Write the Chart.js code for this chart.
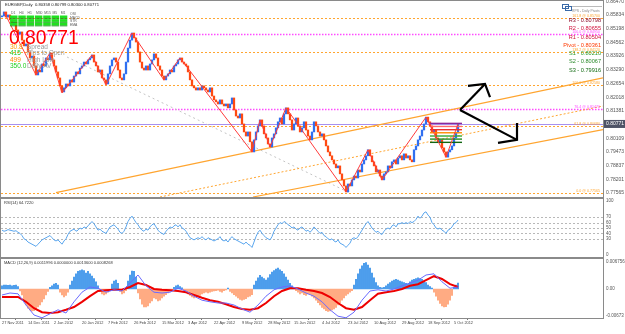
<!DOCTYPE html>
<html><head><meta charset="utf-8">
<script src="https://cdn.jsdelivr.net/npm/chart.js@4.4.1/dist/chart.umd.min.js"></script>
<style>
html,body{margin:0;padding:0;background:#fff;}
#wrap{position:relative;width:625px;height:334px;overflow:hidden;background:#fff;}
canvas{position:absolute;left:0;}
</style></head><body>
<div id="wrap">
<canvas id="cMain" width="625" height="198" style="top:0px"></canvas>
<canvas id="cRsi" width="625" height="60" style="top:198px"></canvas>
<canvas id="cMacd" width="625" height="75" style="top:258px"></canvas>
</div>
<script>
// ================= DATA =================
const symbolTitle = 'EURGBP,Daily  0.80358 0.80799 0.80300 0.80771';
const firstOpen = 0.8575;
const closes = [
0.8579,0.8598,0.8574,0.8584,0.8561,0.8542,0.8551,0.8514,0.8495,0.8505,
0.8467,0.8440,0.8449,0.8412,0.8384,0.8393,0.8347,0.8305,0.8328,0.8319,
0.8356,0.8347,0.8384,0.8375,0.8407,0.8375,0.8347,0.8319,0.8291,0.8254,
0.8226,0.8245,0.8263,0.8254,0.8282,0.8272,0.8300,0.8319,0.8310,0.8337,
0.8347,0.8365,0.8356,0.8375,0.8384,0.8398,0.8365,0.8347,0.8319,0.8328,
0.8291,0.8282,0.8263,0.8310,0.8347,0.8375,0.8384,0.8365,0.8328,0.8291,
0.8282,0.8310,0.8365,0.8430,0.8467,0.8500,0.8477,0.8458,0.8412,0.8365,
0.8337,0.8328,0.8347,0.8328,0.8356,0.8375,0.8403,0.8384,0.8347,0.8328,
0.8300,0.8282,0.8300,0.8310,0.8328,0.8319,0.8347,0.8356,0.8375,0.8384,
0.8365,0.8356,0.8347,0.8319,0.8282,0.8254,0.8245,0.8235,0.8245,0.8235,
0.8254,0.8245,0.8235,0.8226,0.8245,0.8207,0.8189,0.8180,0.8170,0.8189,
0.8170,0.8161,0.8170,0.8152,0.8170,0.8198,0.8142,0.8114,0.8105,0.8124,
0.8077,0.8040,0.8021,0.8040,0.7994,0.7947,0.8003,0.8040,0.8068,0.8096,
0.8068,0.8031,0.8012,0.7984,0.7970,0.8012,0.8031,0.8059,0.8087,0.8105,
0.8077,0.8124,0.8152,0.8124,0.8096,0.8049,0.8077,0.8105,0.8068,0.8040,
0.8059,0.8087,0.8049,0.8021,0.8003,0.8040,0.8087,0.8068,0.8040,0.8021,
0.8031,0.8003,0.7975,0.7947,0.7929,0.7910,0.7891,0.7873,0.7882,0.7845,
0.7817,0.7789,0.7761,0.7798,0.7789,0.7817,0.7835,0.7826,0.7863,0.7854,
0.7891,0.7910,0.7929,0.7957,0.7929,0.7901,0.7882,0.7854,0.7863,0.7835,
0.7817,0.7845,0.7854,0.7882,0.7873,0.7901,0.7910,0.7891,0.7919,0.7929,
0.7910,0.7938,0.7919,0.7929,0.7910,0.7901,0.7957,0.7975,0.8003,0.8021,
0.8049,0.8077,0.8109,0.8087,0.8068,0.8040,0.8049,0.8012,0.7994,0.8003,
0.7966,0.7947,0.7923,0.7947,0.7957,0.7975,0.8012,0.8036,0.80771
];
const zigzagIdx   = [1,17,24,30,45,52,65,81,89,125,129,134,142,172,183,190,212,222,228];
const zigzagPrice = [0.8598,0.8305,0.8407,0.8221,0.8398,0.8258,0.8500,0.8281,0.8384,0.7947,0.8096,0.7970,0.8152,0.7761,0.7957,0.7817,0.8109,0.7923,0.8077];
const priceTicks = [0.86470,0.85834,0.85198,0.84562,0.83926,0.83290,0.82654,0.82018,0.81381,0.80745,0.80109,0.79473,0.78837,0.78201,0.77565];
const currentPrice = 0.80771;
const levelPrices = [0.8570,0.8495,0.8412,0.8258,0.8147,0.8068,0.7756];
const levelLabels = ['161.8 @ 0.85700','100.0 @ 0.84950','138.2 @ 0.84120','100.0 @ 0.82580','76.4 @ 0.81470','61.8 @ 0.80680','0.0 @ 0.77565'];
const levelKinds  = ['o','m','o','o','m','o','o'];
const pivotNames  = ['R3','R2','R1','Pivot','S1','S2','S3'];
const pivotValues = [0.80798,0.80655,0.80504,0.80361,0.80210,0.80067,0.79916];
const pivotSpan   = [214,230];
const trendA = [[27,0.7758],[300.5,0.8291]];
const trendB = [[79,0.77375],[300.5,0.81606]];
const trendC = [[125.5,0.77375],[300.5,0.80504]];
const trendD = [[32.5,0.83885],[174,0.7756]];
const upShaft   = [[229,0.8142],[241.5,0.8263]];
const upHead    = [[233,0.8254],[241.5,0.8263],[244,0.8202]];
const downShaft = [[229,0.8142],[257.5,0.8003]];
const downHead  = [[248,0.7989],[257.5,0.8003],[257.5,0.8082]];
const infoValues = ['30.8','415','499','350.0'];
const infoNames  = ['Spread','Pips to Open','High Low','Daily AV'];
const tfNames = ['D1','H4','H1','M30','M15','M5','M1'];
const tfRows  = ['OSI','MACD','STR','EMA'];

const rsiTitle = 'RSI(14) 64.7220';
const rsi = [
46,44,45,47,46,45,44,45,42,40, 36,30,28,24,22,20,18,16,20,24,
28,30,32,34,36,32,28,26,28,24, 20,26,30,38,44,46,48,44,46,50,
48,52,50,54,58,62,58,52,46,48, 44,42,40,46,52,54,56,52,48,42,
40,44,52,62,68,72,66,60,56,50, 46,44,48,46,52,56,58,52,46,42,
40,38,44,48,52,50,54,56,52,56, 50,48,44,38,32,30,28,30,32,30,
34,30,28,32,30,28,26,28,30,34, 28,26,28,24,30,34,30,28,26,24,
22,20,24,20,18,14,24,34,42,46, 40,36,32,30,28,34,44,50,56,60,
58,62,60,56,54,50,52,48,46,50, 52,48,44,46,42,46,52,48,44,40,
42,36,34,30,28,30,26,24,28,22, 20,18,14,18,22,30,32,30,34,40,
46,52,58,62,56,50,46,42,44,40, 38,44,48,50,48,54,56,52,58,58,
60,58,60,58,62,60,62,66,72,68, 72,78,80,74,70,60,56,50,48,50,
46,44,40,46,48,52,58,60,64.72
];
const rsiTicks = [100,70,60,50,40,30,0];
const rsiLevels = [70,60,50,40,30];

const macdTitle = 'MACD (12,26,9) 0.0011996 0.0000000 0.0013600 0.0008268';
// MACD values in units of 0.0001
const macdHist = [
8,10,10,9,10,8,9,10,6,
-5,-15,-30,-40,-48,-52,-55,-54,-50,-45,-40,-32,-25,-15,-6,
4,8,12,14,10,
-8,-15,-20,-16,-8,
10,20,30,38,44,46,48,46,40,44,38,32,26,18,8,
-6,-12,-15,-12,-8,-4,
12,20,22,14,
-6,-12,-10,-4,
20,35,45,44,30,
-10,-25,-38,-45,-45,-42,-35,-30,-22,-25,-30,-28,-22,-18,-14,-10,-6,-3,
4,8,10,6,3,
-4,-8,-12,-16,-20,-22,-20,-18,-16,-12,-10,-8,-10,-8,-6,-5,-4,-3,-6,-8,-4,-2,2,-6,-10,
-14,-18,-22,-26,-28,-26,-24,-20,-18,-14,
10,20,28,34,30,26,22,28,36,42,46,50,52,48,44,38,30,22,14,8,4,
-4,-8,-12,-10,-14,-16,-12,-14,
-18,-22,-28,-34,-40,-46,-50,-54,-56,-55,-52,-50,-46,-40,-34,-28,-22,-16,-12,-8,-4,
10,24,38,50,58,64,66,60,52,40,28,16,8,4,3,
4,8,12,16,20,22,24,22,20,18,16,14,12,18,22,24,26,28,26,24,20,16,10,6,2,
-8,-18,-28,-36,-42,-45,-44,-38,-28,-16,
4,10,15
];
const macdLineStep = 4;
const macdSignal = [-20,-20,-20,-32,-48,-58,-60,-58,-52,-45,-32,-18,-5,-3,-2,-2,5,15,10,0,-2,-3,-5,-8,-15,-22,-28,-32,-38,-45,-50,-52,-48,-35,-18,-5,2,2,-2,-5,-10,-20,-35,-48,-52,-45,-28,-12,-8,-5,0,8,12,22,32,25,12,5];
const macdMain   = [-15,-10,-12,-40,-65,-72,-62,-52,-60,-32,-8,5,2,-8,-2,-5,15,35,8,-8,-10,-8,2,-5,-18,-28,-32,-35,-35,-40,-50,-58,-40,-18,-2,5,8,0,-10,-18,-32,-52,-68,-72,-58,-28,-5,-2,-5,0,8,15,22,35,38,18,2,5];
const macdTicks = [67.56,0,-67.3];
const macdTickLabels = ['0.006756','0.00','-0.00673'];

const dateIdx = [0,13,26,40,53,66,80,93,106,120,133,146,160,173,186,200,213,226];
const dateLabels = ['27 Nov 2011','14 Dec 2011','2 Jan 2012','20 Jan 2012','7 Feb 2012','26 Feb 2012','15 Mar 2012','3 Apr 2012','22 Apr 2012','9 May 2012','28 May 2012','15 Jun 2012','4 Jul 2012','23 Jul 2012','10 Aug 2012','29 Aug 2012','18 Sep 2012','5 Oct 2012'];

// ================= STYLE =================
const F = '"Liberation Sans", Arial, sans-serif';
const UP = '#2f6ff0', DOWN = '#ff4a12';
const ORANGE = '#ffa530', MAGENTA = '#ff4cff';
const pivotTextColors = ['#8e0b2a','#d0103a','#d0103a','#ff3a00','#2a9a2a','#2a8a2a','#116a11'];
const pivotLineColors = ['#8a2a9a','#ff6a6a','#e83030','#ff8c00','#33aa33','#228b22','#116611'];
const infoColors = ['#ff9a00','#22c822','#ff8a00','#22d022'];

const opens = closes.map((c,i)=> i===0 ? firstOpen : closes[i-1]);
const X_MIN = -0.5, X_MAX = 300.5;
const pts = arr => arr.map(p=>({x:p[0], y:p[1]}));
const lineDs = (points,color,width,dash,order) => ({type:'line', data:pts(points), borderColor:color, borderWidth:width, borderDash:dash||[], pointRadius:0, tension:0, fill:false, order});
const yFit = s => { s.width = 22; s.paddingTop = 0; s.paddingBottom = 0; };
const baseOpts = (padTop,padBottom) => ({
  responsive:false, animation:false, devicePixelRatio:1,
  layout:{padding:{left:1,right:0,top:padTop,bottom:padBottom}},
  plugins:{legend:{display:false}, tooltip:{enabled:false}}
});
function frame(chart){
  const {ctx, chartArea:a} = chart;
  ctx.save(); ctx.strokeStyle='#8a8a8a'; ctx.lineWidth=1; ctx.setLineDash([]);
  ctx.strokeRect(a.left-0.5, a.top-0.5, a.width+1, a.height+1);
  ctx.restore();
}

// ================= MAIN PRICE PANEL =================
const mainOverlay = {
  id:'mainOverlay',
  beforeDatasetsDraw(chart){
    const {ctx, chartArea:a, scales:{y}} = chart;
    ctx.save();
    ctx.beginPath(); ctx.rect(a.left,a.top,a.width,a.height); ctx.clip();
    levelPrices.forEach((p,k)=>{
      const py = Math.round(y.getPixelForValue(p))+0.5;
      const mag = levelKinds[k]==='m';
      ctx.strokeStyle = mag ? MAGENTA : ORANGE;
      ctx.lineWidth = mag ? 1.6 : 1;
      ctx.setLineDash(mag ? [1.5,1.5] : [2,2]);
      ctx.beginPath(); ctx.moveTo(a.left,py); ctx.lineTo(a.right,py); ctx.stroke();
    });
    const cp = Math.round(y.getPixelForValue(currentPrice))+0.5;
    ctx.setLineDash([]); ctx.strokeStyle='#a890ee'; ctx.lineWidth=1;
    ctx.beginPath(); ctx.moveTo(a.left,cp); ctx.lineTo(a.right,cp); ctx.stroke();
    ctx.restore();
  },
  afterDraw(chart){
    const {ctx, chartArea:a, scales:{y}} = chart;
    frame(chart);
    ctx.save();
    // fib labels
    ctx.textAlign='right'; ctx.textBaseline='bottom'; ctx.font='3.6px '+F;
    levelPrices.forEach((p,k)=>{
      const py = y.getPixelForValue(p);
      ctx.fillStyle = levelKinds[k]==='m' ? MAGENTA : ORANGE;
      ctx.fillText(levelLabels[k], a.right-3, py-0.5);
    });
    // header
    ctx.textAlign='left'; ctx.textBaseline='middle';
    ctx.fillStyle='#222'; ctx.font='4.2px '+F;
    ctx.fillText(symbolTitle, 5, 4.5);
    // timeframe grid
    ctx.fillStyle='#555'; ctx.font='3.4px '+F;
    tfNames.forEach((t,c)=> ctx.fillText(t, 11 + c*8.3, 13));
    tfRows.forEach((t,r)=> ctx.fillText(t, 70, 14 + r*3.6));
    for(let r=0;r<3;r++) for(let c=0;c<7;c++){
      ctx.fillStyle='#1fe01f'; ctx.fillRect(10 + c*8.3, 15.5 + r*3.6, 7.5, 2.8);
      ctx.fillStyle='#0c8a0c'; ctx.fillRect(10 + c*8.3, 18.3 + r*3.6, 7.5, 0.8);
    }
    // big price
    ctx.save(); ctx.translate(9,43.6); ctx.scale(0.92,1);
    ctx.fillStyle='#ff0000'; ctx.font='21px '+F; ctx.textBaseline='alphabetic';
    ctx.fillText(currentPrice.toFixed(5),0,0); ctx.restore();
    // info lines
    ctx.font='6.5px '+F; ctx.textBaseline='middle';
    infoValues.forEach((v,k)=>{
      const ty = 47.5 + k*6.2;
      ctx.fillStyle=infoColors[k]; ctx.fillText(v,10,ty);
      ctx.fillStyle='#9a9a9a'; ctx.fillText(infoNames[k],27,ty);
    });
    // pivot box
    ctx.strokeStyle='#3a6aa8'; ctx.lineWidth=1;
    ctx.strokeRect(562.5,4.5,6,4); ctx.strokeRect(565.5,6.5,6,4);
    ctx.strokeStyle='#bbbbbb'; ctx.beginPath(); ctx.moveTo(572,6.5); ctx.lineTo(602,6.5); ctx.stroke();
    ctx.fillStyle='#888'; ctx.font='3.4px '+F; ctx.textAlign='left';
    ctx.fillText('RPS - Daily Pivots', 572, 11.5);
    ctx.textAlign='right'; ctx.font='5.6px '+F;
    const pys = [20,28.5,37,45,53,61.5,70];
    pivotNames.forEach((n,k)=>{
      ctx.fillStyle=pivotTextColors[k];
      ctx.fillText(n+' - '+pivotValues[k].toFixed(5), 601, pys[k]);
    });
    // current price box on axis
    const cp = y.getPixelForValue(currentPrice);
    ctx.fillStyle='#4e5366'; ctx.fillRect(604, cp-4, 21, 8);
    ctx.fillStyle='#fff'; ctx.textAlign='left'; ctx.font='5px '+F;
    ctx.fillText(currentPrice.toFixed(5), 606, cp);
    ctx.restore();
  }
};

new Chart(document.getElementById('cMain'), {
  type:'bar',
  data:{datasets:[
    lineDs(upShaft,'#000',2.2,null,0), lineDs(upHead,'#000',2.2,null,0),
    lineDs(downShaft,'#000',2.2,null,0), lineDs(downHead,'#000',2.2,null,0),
    {type:'line', data:zigzagIdx.map((v,k)=>({x:v,y:zigzagPrice[k]})), borderColor:'#ff3b3b', borderWidth:1, pointRadius:0, tension:0, order:1},
    ...pivotValues.map((v,k)=>({type:'line', data:[{x:pivotSpan[0],y:v},{x:pivotSpan[1],y:v}], borderColor:pivotLineColors[k], borderWidth:1.4, pointRadius:0, order:1})),
    {type:'bar', data:closes.map((c,i)=>({x:i,y:[opens[i],c]})),
     backgroundColor:ctx=> closes[ctx.dataIndex]>=opens[ctx.dataIndex] ? UP : DOWN,
     barThickness:1.6, minBarLength:1, borderWidth:0, order:2},
    lineDs(trendA,ORANGE,1.2,null,3), lineDs(trendB,ORANGE,1,[2,2],3),
    lineDs(trendC,ORANGE,1.2,null,3), lineDs(trendD,'#c4c4c4',1,[2,3],3)
  ]},
  options:Object.assign(baseOpts(1,1),{
    scales:{
      x:{type:'linear', min:X_MIN, max:X_MAX, display:false, offset:false},
      y:{type:'linear', position:'right', min:0.773745, max:0.864885,
         afterFit:yFit, afterBuildTicks:s=>{s.ticks=priceTicks.map(v=>({value:v}));},
         ticks:{autoSkip:false, font:{size:5,family:F}, color:'#555', padding:3, callback:v=>Number(v).toFixed(5)},
         grid:{display:false, drawTicks:false}, border:{display:false}}
    }
  }),
  plugins:[mainOverlay]
});

// ================= RSI PANEL =================
const rsiOverlay = {
  id:'rsiOverlay',
  beforeDatasetsDraw(chart){
    const {ctx, chartArea:a, scales:{y}} = chart;
    ctx.save(); ctx.strokeStyle='#b8b8b8'; ctx.lineWidth=1; ctx.setLineDash([2,2]);
    rsiLevels.forEach(v=>{
      const py = Math.round(y.getPixelForValue(v))+0.5;
      ctx.beginPath(); ctx.moveTo(a.left,py); ctx.lineTo(a.right,py); ctx.stroke();
    });
    ctx.restore();
  },
  afterDraw(chart){
    frame(chart);
    const {ctx} = chart;
    ctx.save(); ctx.fillStyle='#333'; ctx.font='4px '+F; ctx.textBaseline='middle';
    ctx.fillText(rsiTitle, 4, 5); ctx.restore();
  }
};
new Chart(document.getElementById('cRsi'), {
  type:'line',
  data:{datasets:[{data:rsi.map((v,i)=>({x:i,y:v})), borderColor:'#5aa6ee', borderWidth:1, pointRadius:0, tension:0}]},
  options:Object.assign(baseOpts(1,1),{
    scales:{
      x:{type:'linear', min:X_MIN, max:X_MAX, display:false},
      y:{position:'right', min:-3.7, max:103.7, afterFit:yFit,
         afterBuildTicks:s=>{s.ticks=rsiTicks.map(v=>({value:v}));},
         ticks:{autoSkip:false, font:{size:4.5,family:F}, color:'#555', padding:3},
         grid:{display:false, drawTicks:false}, border:{display:false}}
    }
  }),
  plugins:[rsiOverlay]
});

// ================= MACD PANEL =================
const macdOverlay = {
  id:'macdOverlay',
  afterDraw(chart){
    frame(chart);
    const {ctx} = chart;
    ctx.save(); ctx.fillStyle='#333'; ctx.font='4px '+F; ctx.textBaseline='middle';
    ctx.fillText(macdTitle, 4, 5); ctx.restore();
  }
};
new Chart(document.getElementById('cMacd'), {
  type:'bar',
  data:{datasets:[
    {type:'line', data:macdMain.map((v,k)=>({x:k*macdLineStep,y:v})), borderColor:'#6a6aff', borderWidth:1, pointRadius:0, tension:0, order:0},
    {type:'line', data:macdSignal.map((v,k)=>({x:k*macdLineStep,y:v})), borderColor:'#ee0000', borderWidth:2, pointRadius:0, tension:0, order:1},
    {type:'bar', data:macdHist.map((v,i)=>({x:i,y:v})),
     backgroundColor:ctx=> macdHist[ctx.dataIndex]>=0 ? '#2a8ae8' : '#ff9a6a',
     barThickness:1, borderWidth:0, order:2}
  ]},
  options:Object.assign(baseOpts(1,0),{
    scales:{
      x:{type:'linear', min:X_MIN, max:X_MAX, offset:false,
         afterBuildTicks:s=>{s.ticks=dateIdx.map(v=>({value:v}));},
         afterFit:s=>{s.height=15; s.paddingLeft=0; s.paddingRight=0;},
         ticks:{autoSkip:false, maxRotation:0, minRotation:0, align:'start', padding:1,
                font:{size:3.9,family:F}, color:'#444', callback:(v,idx)=>dateLabels[idx]},
         grid:{display:true, drawOnChartArea:false, drawTicks:true, tickLength:2, color:'#777'},
         border:{display:false}},
      y:{position:'right', min:-72.5, max:75, afterFit:yFit,
         afterBuildTicks:s=>{s.ticks=macdTicks.map(v=>({value:v}));},
         ticks:{autoSkip:false, font:{size:4.5,family:F}, color:'#555', padding:3, callback:(v,idx)=>macdTickLabels[idx]},
         grid:{display:false, drawTicks:false}, border:{display:false}}
    }
  }),
  plugins:[macdOverlay]
});
</script>
</body></html>
